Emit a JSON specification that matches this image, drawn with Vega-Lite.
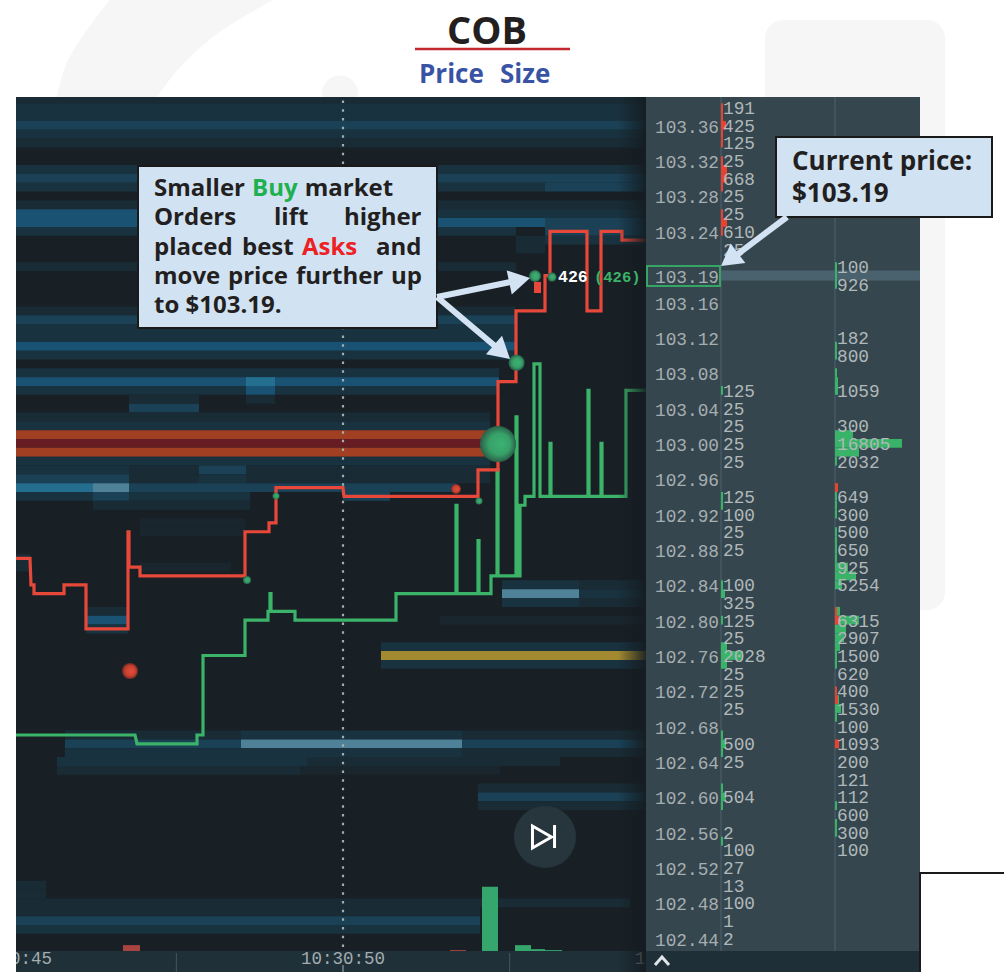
{"$schema":"https://vega.github.io/schema/vega-lite/v6.json","width":1004,"height":972,"padding":0,"autosize":"none","background":"#ffffff","config":{"view":{"stroke":null}},
"encoding":{"x":{"field":"t","type":"quantitative","scale":{"domain":[44855,59915],"nice":false,"zero":false},"axis":null},"y":{"field":"p","type":"quantitative","scale":{"domain":[102.4018,103.5018],"nice":false,"zero":false},"axis":null}},
"layer":[
{"data":{"values":[{"p":103.5018,"t":46505,"t1":48950},{"p":103.4712,"t":46190,"t1":48260},{"p":103.4339,"t":45875,"t1":47660},{"p":103.392,"t":45710,"t1":47210}]},"mark":{"type":"area","orient":"horizontal","fill":"#f6f6f6","interpolate":"monotone"},"encoding":{"x2":{"field":"t1"}}},
{"data":{"values":[{"t":56330,"t1":59030,"p":103.4792,"p1":102.8115}]},"mark":{"type":"rect","fill":"#f6f6f6","cornerRadius":18},"encoding":{"x2":{"field":"t1"},"y2":{"field":"p1"}}},
{"data":{"values":[{"t":49955,"p":103.396}]},"mark":{"type":"point","filled":true,"fill":"#f6f6f6","opacity":1,"size":1296}},
{"data":{"values":[{"t":45095,"t1":54545,"p":103.392,"p1":102.4255}]},"mark":{"type":"rect","fill":"#182026"},"encoding":{"x2":{"field":"t1"},"y2":{"field":"p1"}}},
{"data":{"values":[{"t":45095,"t1":54545,"p":103.392,"p1":103.385}]},"mark":{"type":"rect","fill":"#192c36"},"encoding":{"x2":{"field":"t1"},"y2":{"field":"p1"}}},
{"data":{"values":[
{"p":103.38,"t":45095,"t1":54545,"d":2},{"p":103.37,"t":45095,"t1":54545,"d":2},{"p":103.36,"t":45095,"t1":54545,"d":3},{"p":103.35,"t":45095,"t1":54545,"d":2},{"p":103.34,"t":45095,"t1":54545,"d":1},
{"p":103.31,"t":45095,"t1":54545,"d":2},{"p":103.30,"t":45095,"t1":54545,"d":3},{"p":103.29,"t":45095,"t1":53030,"d":2},{"p":103.29,"t":53030,"t1":54545,"d":3},
{"p":103.27,"t":45095,"t1":54545,"d":1},{"p":103.26,"t":45095,"t1":51410,"d":4},{"p":103.26,"t":51410,"t1":54545,"d":2},{"p":103.25,"t":45095,"t1":53030,"d":4},{"p":103.25,"t":53030,"t1":54545,"d":3},
{"p":103.24,"t":45095,"t1":52595,"d":2},{"p":103.24,"t":53030,"t1":54545,"d":3},{"p":103.23,"t":53030,"t1":54545,"d":2},{"p":103.23,"t":52595,"t1":53030,"d":1},{"p":103.22,"t":52595,"t1":53030,"d":1},{"p":103.20,"t":45095,"t1":52595,"d":1},
{"p":103.15,"t":45095,"t1":52580,"d":1},{"p":103.14,"t":45095,"t1":52580,"d":3},{"p":103.13,"t":45095,"t1":52580,"d":2},{"p":103.12,"t":45095,"t1":52580,"d":2},{"p":103.11,"t":45095,"t1":52580,"d":4},{"p":103.10,"t":45095,"t1":52580,"d":2},
{"p":103.08,"t":45095,"t1":52340,"d":2},{"p":103.07,"t":45095,"t1":52340,"d":4},{"p":103.07,"t":48545,"t1":48980,"d":5},{"p":103.06,"t":45095,"t1":52340,"d":2},{"p":103.06,"t":48545,"t1":48980,"d":4},
{"p":103.05,"t":46790,"t1":47840,"d":1},{"p":103.05,"t":48545,"t1":48980,"d":1},{"p":103.04,"t":46790,"t1":47840,"d":3},{"p":103.03,"t":45095,"t1":52205,"d":1},{"p":103.02,"t":45095,"t1":52205,"d":2},
{"p":103.01,"t":45095,"t1":52205,"d":7},{"p":103.00,"t":45095,"t1":52205,"d":8},{"p":102.99,"t":45095,"t1":52205,"d":7},{"p":102.98,"t":45095,"t1":52205,"d":2},
{"p":102.97,"t":45095,"t1":46790,"d":2},{"p":102.97,"t":46790,"t1":47840,"d":1},{"p":102.97,"t":47840,"t1":48545,"d":3},{"p":102.97,"t":48545,"t1":52205,"d":1},
{"p":102.96,"t":45095,"t1":46790,"d":3},{"p":102.96,"t":46790,"t1":47840,"d":1},{"p":102.96,"t":47840,"t1":48545,"d":2},{"p":102.96,"t":48545,"t1":52205,"d":1},
{"p":102.95,"t":45095,"t1":46250,"d":5},{"p":102.95,"t":46250,"t1":46790,"d":6},{"p":102.95,"t":46790,"t1":51695,"d":3},
{"p":102.94,"t":45095,"t1":46250,"d":2},{"p":102.94,"t":46250,"t1":46790,"d":3},{"p":102.94,"t":46790,"t1":48605,"d":2},{"p":102.94,"t":50000,"t1":50705,"d":3},{"p":102.93,"t":46250,"t1":48605,"d":1},
{"p":102.91,"t":46955,"t1":48530,"d":0},{"p":102.90,"t":46955,"t1":48530,"d":0},{"p":102.87,"t":45095,"t1":45305,"d":1},{"p":102.86,"t":45095,"t1":45305,"d":1},{"p":102.86,"t":46955,"t1":48320,"d":0},
{"p":102.81,"t":46145,"t1":46775,"d":1},{"p":102.80,"t":46145,"t1":46775,"d":4},{"p":102.79,"t":46145,"t1":46775,"d":2},
{"p":102.84,"t":52385,"t1":53540,"d":2},{"p":102.84,"t":53540,"t1":54545,"d":1},{"p":102.83,"t":52385,"t1":53540,"d":6},{"p":102.83,"t":53540,"t1":54545,"d":2},{"p":102.82,"t":52385,"t1":53540,"d":2},{"p":102.82,"t":53540,"t1":54545,"d":1},
{"p":102.80,"t":51455,"t1":54545,"d":0},{"p":102.77,"t":50570,"t1":54545,"d":2},{"p":102.76,"t":50570,"t1":54545,"d":9},{"p":102.75,"t":50570,"t1":54545,"d":2},
{"p":102.67,"t":45830,"t1":48470,"d":1},{"p":102.67,"t":48470,"t1":51785,"d":2},{"p":102.67,"t":51785,"t1":54545,"d":1},
{"p":102.66,"t":45830,"t1":48470,"d":3},{"p":102.66,"t":48470,"t1":51785,"d":6},{"p":102.66,"t":51785,"t1":54545,"d":3},
{"p":102.65,"t":45830,"t1":51785,"d":2},{"p":102.65,"t":51785,"t1":54545,"d":1},{"p":102.64,"t":45710,"t1":49460,"d":2},{"p":102.64,"t":49460,"t1":53255,"d":1},{"p":102.63,"t":45710,"t1":49355,"d":1},{"p":102.63,"t":49355,"t1":52355,"d":0},
{"p":102.61,"t":52025,"t1":54545,"d":1},{"p":102.60,"t":52025,"t1":54545,"d":3},{"p":102.59,"t":52025,"t1":54545,"d":1},
{"p":102.50,"t":45095,"t1":45545,"d":1},{"p":102.49,"t":45095,"t1":45545,"d":1},{"p":102.48,"t":45095,"t1":54305,"d":1},{"p":102.47,"t":45095,"t1":52055,"d":1},{"p":102.46,"t":45095,"t1":52055,"d":3},{"p":102.45,"t":45095,"t1":52055,"d":2}
]},"mark":{"type":"rule","strokeWidth":8.84},"encoding":{"x2":{"field":"t1"},"color":{"field":"d","type":"ordinal","legend":null,"scale":{"domain":[0,1,2,3,4,5,6,7,8,9],"range":["#1a262d","#192c36","#19323f","#1a4156","#1a5274","#246f90","#4f8299","#a03f22","#651c23","#a38a30"]}}}},
{"data":{"values":[{"t":52085,"t1":52325,"p":102.4983,"p1":102.4255},{"t":52580,"t1":52820,"p":102.4322,"p1":102.4255},{"t":52820,"t1":53030,"p":102.4277,"p1":102.4255},{"t":53030,"t1":53285,"p":102.4266,"p1":102.4255}]},"mark":{"type":"rect","fill":"#36a76c"},"encoding":{"x2":{"field":"t1"},"y2":{"field":"p1"}}},
{"data":{"values":[{"t":46700,"t1":46955,"p":102.4322,"p1":102.4255},{"t":51605,"t1":51845,"p":102.4266,"p1":102.4255}]},"mark":{"type":"rect","fill":"#a8443f"},"encoding":{"x2":{"field":"t1"},"y2":{"field":"p1"}}},
{"data":{"values":[{"t":50000,"p":103.388,"p1":102.4255}]},"mark":{"type":"rule","stroke":"#a3adb0","strokeWidth":2.2,"strokeDash":[2.5,6.2]},"encoding":{"y2":{"field":"p1"}}},
{"data":{"values":[{"t":45095,"p":102.67},{"t":46880,"p":102.67},{"t":46910,"p":102.66},{"t":47810,"p":102.66},{"t":47810,"p":102.67},{"t":47900,"p":102.67},{"t":47900,"p":102.76},{"t":48530,"p":102.76},{"t":48530,"p":102.80},{"t":48875,"p":102.80},{"t":48875,"p":102.81},{"t":48905,"p":102.81},{"t":48905,"p":102.83},{"t":48920,"p":102.83},{"t":48920,"p":102.81},{"t":49280,"p":102.81},{"t":49280,"p":102.80},{"t":50795,"p":102.80},{"t":50795,"p":102.83},{"t":51695,"p":102.83},{"t":51695,"p":102.93},{"t":51710,"p":102.93},{"t":51710,"p":102.83},{"t":52025,"p":102.83},{"t":52025,"p":102.89},{"t":52040,"p":102.89},{"t":52040,"p":102.83},{"t":52220,"p":102.83},{"t":52220,"p":102.85},{"t":52310,"p":102.85},{"t":52310,"p":102.97},{"t":52325,"p":102.97},{"t":52325,"p":102.85},{"t":52595,"p":102.85},{"t":52595,"p":103.03},{"t":52610,"p":103.03},{"t":52610,"p":102.85},{"t":52655,"p":102.85},{"t":52655,"p":102.93},{"t":52730,"p":102.93},{"t":52730,"p":102.94},{"t":52865,"p":102.94},{"t":52865,"p":103.09},{"t":52955,"p":103.09},{"t":52955,"p":102.94},{"t":53105,"p":102.94},{"t":53105,"p":103.00},{"t":53120,"p":103.00},{"t":53120,"p":102.94},{"t":53675,"p":102.94},{"t":53675,"p":103.06},{"t":53690,"p":103.06},{"t":53690,"p":102.94},{"t":53870,"p":102.94},{"t":53870,"p":103.00},{"t":53885,"p":103.00},{"t":53885,"p":102.94},{"t":54245,"p":102.94},{"t":54245,"p":103.06},{"t":54545,"p":103.06}]},"mark":{"type":"line","stroke":"#3bb368","strokeWidth":3.2},"encoding":{"order":{"value":null}}},
{"data":{"values":[{"t":45095,"p":102.87},{"t":45305,"p":102.87},{"t":45320,"p":102.84},{"t":45365,"p":102.84},{"t":45365,"p":102.83},{"t":45815,"p":102.83},{"t":45815,"p":102.84},{"t":46145,"p":102.84},{"t":46145,"p":102.79},{"t":46775,"p":102.79},{"t":46775,"p":102.90},{"t":46790,"p":102.90},{"t":46790,"p":102.86},{"t":46955,"p":102.86},{"t":46955,"p":102.85},{"t":48530,"p":102.85},{"t":48530,"p":102.90},{"t":48890,"p":102.90},{"t":48890,"p":102.91},{"t":48995,"p":102.91},{"t":48995,"p":102.95},{"t":50000,"p":102.95},{"t":50015,"p":102.94},{"t":52025,"p":102.94},{"t":52025,"p":102.97},{"t":52325,"p":102.97},{"t":52325,"p":103.07},{"t":52595,"p":103.07},{"t":52595,"p":103.15},{"t":53030,"p":103.15},{"t":53030,"p":103.19},{"t":53105,"p":103.19},{"t":53105,"p":103.24},{"t":53660,"p":103.24},{"t":53660,"p":103.15},{"t":53870,"p":103.15},{"t":53870,"p":103.24},{"t":54185,"p":103.24},{"t":54185,"p":103.23},{"t":54545,"p":103.23}]},"mark":{"type":"line","stroke":"#e8483a","strokeWidth":3.2},"encoding":{"order":{"value":null}}},
{"data":{"values":[{"t":52865,"t1":52970,"p":103.1827,"p1":103.1702}]},"mark":{"type":"rect","fill":"#e8483a"},"encoding":{"x2":{"field":"t1"},"y2":{"field":"p1"}}},
{"data":{"values":[{"t":52325,"p":102.9993,"q":3840},{"t":52604,"p":103.0913,"q":760},{"t":52880,"p":103.1894,"q":426},{"t":53135,"p":103.1883,"q":240},{"t":48995,"p":102.9405,"q":145},{"t":48560,"p":102.8454,"q":190},{"t":52040,"p":102.9348,"q":145}]},"mark":{"type":"point","filled":true,"opacity":1,"fill":{"gradient":"radial","x1":0.6,"y1":0.5,"r1":0,"x2":0.5,"y2":0.5,"r2":0.5,"stops":[{"offset":0,"color":"#3cb274"},{"offset":0.6,"color":"#37a068"},{"offset":1,"color":"#2a5f48"}]}},"encoding":{"size":{"field":"q","type":"quantitative","legend":null,"scale":{"domain":[0,3840],"range":[0,1296]}}}},
{"data":{"values":[{"t":46805,"p":102.7424,"q":760},{"t":51695,"p":102.9484,"q":296}]},"mark":{"type":"point","filled":true,"opacity":1,"fill":{"gradient":"radial","x1":0.6,"y1":0.5,"r1":0,"x2":0.5,"y2":0.5,"r2":0.5,"stops":[{"offset":0,"color":"#e54e3c"},{"offset":0.65,"color":"#c8402f"},{"offset":1,"color":"#6e2a26"}]}},"encoding":{"size":{"field":"q","type":"quantitative","legend":null,"scale":{"domain":[0,3840],"range":[0,1296]}}}},
{"data":{"values":[{"t":53030,"p":102.5546}]},"mark":{"type":"point","filled":true,"fill":"#27363c","opacity":1,"size":3844}},
{"data":{"values":[{"t":52985,"p":102.5546}]},"mark":{"type":"point","shape":"triangle-right","filled":false,"stroke":"#ffffff","strokeWidth":3,"opacity":1,"size":484}},
{"data":{"values":[{"t":53173,"p":102.5681,"p1":102.5421}]},"mark":{"type":"rule","stroke":"#ffffff","strokeWidth":3},"encoding":{"y2":{"field":"p1"}}},
{"data":{"values":[{"t":45095,"t1":54545,"p":102.4255,"p1":102.4018}]},"mark":{"type":"rect","fill":"#1f3038"},"encoding":{"x2":{"field":"t1"},"y2":{"field":"p1"}}},
{"data":{"values":[{"t":47500,"p":102.4233,"p1":102.4018},{"t":52500,"p":102.4233,"p1":102.4018}]},"mark":{"type":"rule","stroke":"#46565e","strokeWidth":1},"encoding":{"y2":{"field":"p1"}}},
{"data":{"values":[{"t":50000,"p":102.4097,"p1":102.4018}]},"mark":{"type":"rule","stroke":"#aab2b5","strokeWidth":1},"encoding":{"y2":{"field":"p1"}}},
{"data":{"values":[{"t":50000,"p":102.4165,"s":"10:30:50"}]},"mark":{"type":"text","font":"Liberation Mono","fontSize":17.5,"fill":"#a3acaf","align":"center","baseline":"middle"},"encoding":{"text":{"field":"s"}}},
{"data":{"values":[{"t":45635,"p":102.4165,"s":"0:45"}]},"mark":{"type":"text","font":"Liberation Mono","fontSize":17.5,"fill":"#a3acaf","align":"right","baseline":"middle"},"encoding":{"text":{"field":"s"}}},
{"data":{"values":[{"t":54380,"p":102.4165,"s":"1"}]},"mark":{"type":"text","font":"Liberation Mono","fontSize":17.5,"fill":"#a3acaf","align":"left","baseline":"middle"},"encoding":{"text":{"field":"s"}}},
{"data":{"values":[{"t":54125,"t1":54545,"p":103.392,"p1":102.4018}]},"mark":{"type":"rect","fill":{"gradient":"linear","x1":0,"y1":0,"x2":1,"y2":0,"stops":[{"offset":0,"color":"rgba(20,28,33,0)"},{"offset":1,"color":"rgba(20,28,33,0.9)"}]}},"encoding":{"x2":{"field":"t1"},"y2":{"field":"p1"}}},
{"data":{"values":[{"t":54545,"t1":58655,"p":103.392,"p1":102.4255}]},"mark":{"type":"rect","fill":"#35464e"},"encoding":{"x2":{"field":"t1"},"y2":{"field":"p1"}}},
{"data":{"values":[{"t":54545,"t1":58655,"p":102.4255,"p1":102.4018}]},"mark":{"type":"rect","fill":"#1e2f37"},"encoding":{"x2":{"field":"t1"},"y2":{"field":"p1"}}},
{"data":{"values":[{"t":55670,"p":103.392,"p1":102.4255},{"t":57380,"p":103.392,"p1":102.4255}]},"mark":{"type":"rule","stroke":"#465a64","strokeWidth":1.5},"encoding":{"y2":{"field":"p1"}}},
{"data":{"values":[{"t":55670,"t1":58655,"p":103.19}]},"mark":{"type":"rule","stroke":"#4a626e","strokeWidth":10},"encoding":{"x2":{"field":"t1"}}},
{"data":{"values":[{"t":55670,"t1":55700,"p":103.06},{"t":55670,"t1":55700,"p":102.94},{"t":55670,"t1":55700,"p":102.93},{"t":55670,"t1":55700,"p":102.84},{"t":55670,"t1":55730,"p":102.83},{"t":55670,"t1":55700,"p":102.80},{"t":55670,"t1":55760,"p":102.77},{"t":55670,"t1":56000,"p":102.76},{"t":55670,"t1":55760,"p":102.75},{"t":55670,"t1":55700,"p":102.67},{"t":55670,"t1":55745,"p":102.66},{"t":55670,"t1":55700,"p":102.65},{"t":55670,"t1":55700,"p":102.61},{"t":55670,"t1":55745,"p":102.60},{"t":55670,"t1":55700,"p":102.59},{"t":55670,"t1":55700,"p":102.55},
{"t":57380,"t1":57410,"p":103.20},{"t":57380,"t1":57410,"p":103.19},{"t":57380,"t1":57410,"p":103.18},{"t":57380,"t1":57410,"p":103.11},{"t":57380,"t1":57410,"p":103.10},{"t":57380,"t1":57410,"p":103.08},{"t":57380,"t1":57425,"p":103.07},{"t":57380,"t1":57425,"p":103.06},{"t":57380,"t1":57650,"p":103.01},{"t":57380,"t1":58385,"p":103.00},{"t":57380,"t1":57740,"p":102.99},{"t":57380,"t1":57410,"p":102.98},{"t":57380,"t1":57410,"p":102.94},{"t":57380,"t1":57410,"p":102.93},{"t":57380,"t1":57410,"p":102.92},{"t":57380,"t1":57410,"p":102.90},{"t":57380,"t1":57410,"p":102.89},{"t":57380,"t1":57410,"p":102.88},{"t":57380,"t1":57410,"p":102.87},{"t":57380,"t1":57575,"p":102.86},{"t":57380,"t1":57695,"p":102.85},{"t":57380,"t1":57485,"p":102.84},{"t":57380,"t1":57455,"p":102.81},{"t":57380,"t1":57740,"p":102.80},{"t":57380,"t1":57545,"p":102.79},{"t":57380,"t1":57515,"p":102.78},{"t":57380,"t1":57455,"p":102.77},{"t":57380,"t1":57410,"p":102.76},{"t":57380,"t1":57410,"p":102.75},{"t":57410,"t1":57440,"p":102.71},{"t":57380,"t1":57470,"p":102.70},{"t":57380,"t1":57410,"p":102.69},{"t":57380,"t1":57410,"p":102.59},{"t":57380,"t1":57410,"p":102.57},{"t":57380,"t1":57410,"p":102.56}]},"mark":{"type":"rule","stroke":"#39b368","strokeWidth":8.84},"encoding":{"x2":{"field":"t1"}}},
{"data":{"values":[{"t":55670,"t1":55700,"p":103.38},{"t":55670,"t1":55700,"p":103.37},{"t":55670,"t1":55745,"p":103.36},{"t":55670,"t1":55700,"p":103.35},{"t":55670,"t1":55700,"p":103.34},{"t":55670,"t1":55700,"p":103.32},{"t":55670,"t1":55760,"p":103.31},{"t":55670,"t1":55760,"p":103.30},{"t":55670,"t1":55700,"p":103.29},{"t":55670,"t1":55700,"p":103.26},{"t":55670,"t1":55760,"p":103.25},{"t":55670,"t1":55700,"p":103.24},
{"t":57380,"t1":57425,"p":102.95},{"t":57380,"t1":57410,"p":102.81},{"t":57380,"t1":57440,"p":102.80},{"t":57380,"t1":57410,"p":102.72},{"t":57380,"t1":57425,"p":102.71},{"t":57380,"t1":57440,"p":102.66}]},"mark":{"type":"rule","stroke":"#e8432f","strokeWidth":8.84},"encoding":{"x2":{"field":"t1"}}},
{"data":{"values":[{"t":55640,"p":103.36,"s":"103.36"},{"t":55640,"p":103.32,"s":"103.32"},{"t":55640,"p":103.28,"s":"103.28"},{"t":55640,"p":103.24,"s":"103.24"},{"t":55640,"p":103.19,"s":"103.19"},{"t":55640,"p":103.16,"s":"103.16"},{"t":55640,"p":103.12,"s":"103.12"},{"t":55640,"p":103.08,"s":"103.08"},{"t":55640,"p":103.04,"s":"103.04"},{"t":55640,"p":103.00,"s":"103.00"},{"t":55640,"p":102.96,"s":"102.96"},{"t":55640,"p":102.92,"s":"102.92"},{"t":55640,"p":102.88,"s":"102.88"},{"t":55640,"p":102.84,"s":"102.84"},{"t":55640,"p":102.80,"s":"102.80"},{"t":55640,"p":102.76,"s":"102.76"},{"t":55640,"p":102.72,"s":"102.72"},{"t":55640,"p":102.68,"s":"102.68"},{"t":55640,"p":102.64,"s":"102.64"},{"t":55640,"p":102.60,"s":"102.60"},{"t":55640,"p":102.56,"s":"102.56"},{"t":55640,"p":102.52,"s":"102.52"},{"t":55640,"p":102.48,"s":"102.48"},{"t":55640,"p":102.44,"s":"102.44"}]},"mark":{"type":"text","font":"Liberation Mono","fontSize":17.8,"fill":"#a6aeb1","align":"right","baseline":"middle","dy":2.5},"encoding":{"text":{"field":"s"}}},
{"data":{"values":[{"t":55700,"p":103.38,"s":"191"},{"t":55700,"p":103.36,"s":"425"},{"t":55700,"p":103.34,"s":"125"},{"t":55700,"p":103.32,"s":"25"},{"t":55700,"p":103.30,"s":"668"},{"t":55700,"p":103.28,"s":"25"},{"t":55700,"p":103.26,"s":"25"},{"t":55700,"p":103.24,"s":"610"},{"t":55700,"p":103.22,"s":"25"},{"t":55700,"p":103.06,"s":"125"},{"t":55700,"p":103.04,"s":"25"},{"t":55700,"p":103.02,"s":"25"},{"t":55700,"p":103.00,"s":"25"},{"t":55700,"p":102.98,"s":"25"},{"t":55700,"p":102.94,"s":"125"},{"t":55700,"p":102.92,"s":"100"},{"t":55700,"p":102.90,"s":"25"},{"t":55700,"p":102.88,"s":"25"},{"t":55700,"p":102.84,"s":"100"},{"t":55700,"p":102.82,"s":"325"},{"t":55700,"p":102.80,"s":"125"},{"t":55700,"p":102.78,"s":"25"},{"t":55700,"p":102.76,"s":"2028"},{"t":55700,"p":102.74,"s":"25"},{"t":55700,"p":102.72,"s":"25"},{"t":55700,"p":102.70,"s":"25"},{"t":55700,"p":102.66,"s":"500"},{"t":55700,"p":102.64,"s":"25"},{"t":55700,"p":102.60,"s":"504"},{"t":55700,"p":102.56,"s":"2"},{"t":55700,"p":102.54,"s":"100"},{"t":55700,"p":102.52,"s":"27"},{"t":55700,"p":102.50,"s":"13"},{"t":55700,"p":102.48,"s":"100"},{"t":55700,"p":102.46,"s":"1"},{"t":55700,"p":102.44,"s":"2"}]},"mark":{"type":"text","font":"Liberation Mono","fontSize":17.8,"fill":"#b0b8ba","align":"left","baseline":"middle","dy":1.5},"encoding":{"text":{"field":"s"}}},
{"data":{"values":[{"t":57410,"p":103.20,"s":"100"},{"t":57410,"p":103.18,"s":"926"},{"t":57410,"p":103.12,"s":"182"},{"t":57410,"p":103.10,"s":"800"},{"t":57410,"p":103.06,"s":"1059"},{"t":57410,"p":103.02,"s":"300"},{"t":57410,"p":103.00,"s":"16805"},{"t":57410,"p":102.98,"s":"2032"},{"t":57410,"p":102.94,"s":"649"},{"t":57410,"p":102.92,"s":"300"},{"t":57410,"p":102.90,"s":"500"},{"t":57410,"p":102.88,"s":"650"},{"t":57410,"p":102.86,"s":"925"},{"t":57410,"p":102.84,"s":"5254"},{"t":57410,"p":102.80,"s":"6315"},{"t":57410,"p":102.78,"s":"2907"},{"t":57410,"p":102.76,"s":"1500"},{"t":57410,"p":102.74,"s":"620"},{"t":57410,"p":102.72,"s":"400"},{"t":57410,"p":102.70,"s":"1530"},{"t":57410,"p":102.68,"s":"100"},{"t":57410,"p":102.66,"s":"1093"},{"t":57410,"p":102.64,"s":"200"},{"t":57410,"p":102.62,"s":"121"},{"t":57410,"p":102.60,"s":"112"},{"t":57410,"p":102.58,"s":"600"},{"t":57410,"p":102.56,"s":"300"},{"t":57410,"p":102.54,"s":"100"}]},"mark":{"type":"text","font":"Liberation Mono","fontSize":17.8,"fill":"#b0b8ba","align":"left","baseline":"middle","dy":1.5},"encoding":{"text":{"field":"s"}}},
{"data":{"values":[{"t":54560,"t1":55655,"p":103.2008,"p1":103.1781}]},"mark":{"type":"rect","fill":"#000000","fillOpacity":0,"stroke":"#35a566","strokeWidth":2},"encoding":{"x2":{"field":"t1"},"y2":{"field":"p1"}}},
{"data":{"values":[{"t":53225,"p":103.19,"s":"426"}]},"mark":{"type":"text","font":"Liberation Mono","fontWeight":700,"fontSize":16.5,"fill":"#ffffff","align":"left","baseline":"middle","dy":1},"encoding":{"text":{"field":"s"}}},
{"data":{"values":[{"t":53765,"p":103.19,"s":"(426)"}]},"mark":{"type":"text","font":"Liberation Mono","fontWeight":700,"fontSize":15.5,"fill":"#3bb368","align":"left","baseline":"middle","dy":1},"encoding":{"text":{"field":"s"}}},
{"data":{"values":[{"t":54680,"p":102.4098},{"t":54785,"p":102.4188},{"t":54890,"p":102.4098}]},"mark":{"type":"line","stroke":"#dfe5e8","strokeWidth":3},"encoding":{"order":{"value":null}}},
{"data":{"values":[{"t":44855,"t1":45095,"p":103.392,"p1":102.4018}]},"mark":{"type":"rect","fill":"#ffffff"},"encoding":{"x2":{"field":"t1"},"y2":{"field":"p1"}}},
{"data":{"values":[{"t":59915,"p":102.5139},{"t":58655,"p":102.5139},{"t":58655,"p":102.4018}]},"mark":{"type":"line","stroke":"#1a1a1a","strokeWidth":2},"encoding":{"order":{"value":null}}},
{"data":{"values":[{"t":46925,"t1":51410,"p":103.3139,"p1":103.1306},{"t":56495,"t1":59735,"p":103.3468,"p1":103.2562}]},"mark":{"type":"rect","fill":"#d1e2f3","stroke":"#1a1a1a","strokeWidth":2},"encoding":{"x2":{"field":"t1"},"y2":{"field":"p1"}}},
{"data":{"values":[{"a":"A","t":51410,"p":103.1657},{"a":"A","t":52655,"p":103.1849},{"a":"B","t":51410,"p":103.1657},{"a":"B","t":52385,"p":103.1035},{"a":"C","t":56660,"p":103.2562},{"a":"C","t":55805,"p":103.2076}]},"mark":{"type":"line","stroke":"#d3e3f3","strokeWidth":6},"encoding":{"detail":{"field":"a"},"order":{"value":null}}},
{"data":{"values":[{"t":52649,"p":103.1847,"h":78},{"t":52385,"p":103.1035,"h":131},{"t":55798,"p":103.2079,"h":233}]},"mark":{"type":"point","shape":"triangle-up","filled":true,"fill":"#d3e3f3","opacity":1,"size":600},"encoding":{"angle":{"field":"h","type":"quantitative","scale":null}}},
{"data":{"values":[{"t":47165,"p":103.289,"s":"Smaller"},{"t":49425,"p":103.289,"s":"market"},{"t":47165,"p":103.2562,"s":"Orders"},{"t":48965,"p":103.2562,"s":"lift"},{"t":50015,"p":103.2562,"s":"higher"},{"t":47165,"p":103.2223,"s":"placed"},{"t":48485,"p":103.2223,"s":"best"},{"t":50495,"p":103.2223,"s":"and"},{"t":47165,"p":103.1895,"s":"move"},{"t":48275,"p":103.1895,"s":"price"},{"t":49295,"p":103.1895,"s":"further"},{"t":50720,"p":103.1895,"s":"up"},{"t":47165,"p":103.1566,"s":"to $103.19."}]},"mark":{"type":"text","font":"Open Sans","fontWeight":700,"fontSize":24,"fill":"#231f20","align":"left","baseline":"middle","dy":1},"encoding":{"text":{"field":"s"}}},
{"data":{"values":[{"t":48635,"p":103.289,"s":"Buy"}]},"mark":{"type":"text","font":"Open Sans","fontWeight":700,"fontSize":24,"fill":"#1fb14f","align":"left","baseline":"middle","dy":1},"encoding":{"text":{"field":"s"}}},
{"data":{"values":[{"t":49385,"p":103.2223,"s":"Asks"}]},"mark":{"type":"text","font":"Open Sans","fontWeight":700,"fontSize":24,"fill":"#ed2024","align":"left","baseline":"middle","dy":1},"encoding":{"text":{"field":"s"}}},
{"data":{"values":[{"t":56735,"p":103.3196,"s":"Current price:"},{"t":56735,"p":103.2834,"s":"$103.19"}]},"mark":{"type":"text","font":"Open Sans","fontWeight":700,"fontSize":26,"fill":"#231f20","align":"left","baseline":"middle","dy":1.5},"encoding":{"text":{"field":"s"}}},
{"data":{"values":[{"t":52160,"p":103.4678,"s":"COB"}]},"mark":{"type":"text","font":"Open Sans","fontWeight":700,"fontSize":38,"fill":"#231f20","align":"center","baseline":"middle","dy":3},"encoding":{"text":{"field":"s"}}},
{"data":{"values":[{"t":51080,"t1":53405,"p":103.4463}]},"mark":{"type":"rule","stroke":"#c4262e","strokeWidth":2.4},"encoding":{"x2":{"field":"t1"}}},
{"data":{"values":[{"t":51140,"p":103.4192,"s":"Price"},{"t":52355,"p":103.4192,"s":"Size"}]},"mark":{"type":"text","font":"Open Sans","fontWeight":700,"fontSize":26,"fill":"#3953a4","align":"left","baseline":"middle","dy":2},"encoding":{"text":{"field":"s"}}}
]}
